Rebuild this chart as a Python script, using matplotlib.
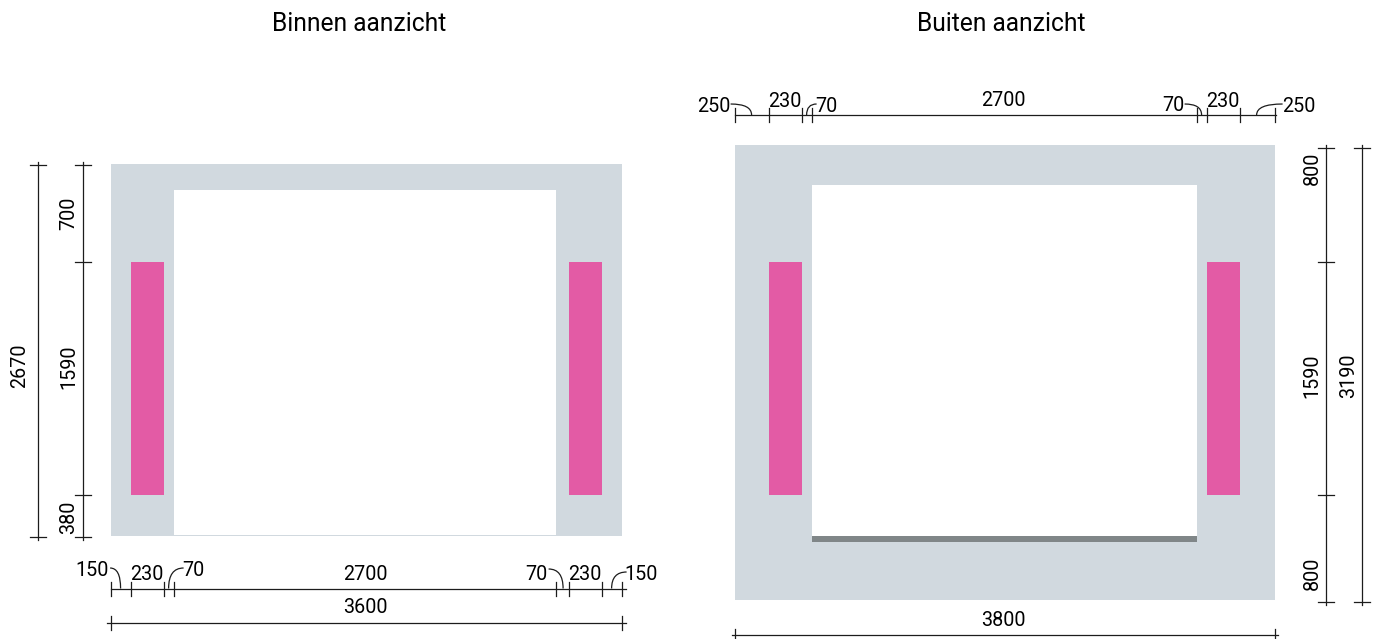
import numpy as np
import matplotlib
matplotlib.use('Agg')
import matplotlib.pyplot as plt
from matplotlib.patches import Rectangle, PathPatch
from matplotlib.path import Path

plt.rcParams['font.family'] = ['Roboto', 'DejaVu Sans']

# --- dimensions in mm ---
titles = ['Binnen aanzicht', 'Buiten aanzicht']

binnen_widths = [150, 230, 70, 2700, 70, 230, 150]
binnen_total_width = 3600
binnen_heights = [700, 1590, 380]
binnen_total_height = 2670

buiten_widths = [250, 230, 70, 2700, 70, 230, 250]
buiten_total_width = 3800
buiten_heights = [800, 1590, 800]
buiten_total_height = 3190

# the drawing is not quite to scale, so each panel has its own mm -> pixel edges
binnen_x_edges = [111, 131, 164, 174.5, 556.5, 569, 602, 622]
binnen_y_edges = [165, 262, 495, 536.5]
buiten_x_edges = [735, 769.5, 802, 812.5, 1197, 1207, 1240, 1275]
buiten_y_edges = [147.5, 262, 495, 601.5]

GREY = '#d1d9df'
PINK = '#e35ba5'
BAR = '#808688'
INK = '#1c1c1c'
LW = 0.9
FS = 14.2


def scale(values, edges):
    cum = np.concatenate([[0], np.cumsum(values)])
    return cum, lambda mm: np.interp(mm, cum, edges)


def hdim(ax, xs, y, tick=7, over=(0, 4)):
    ax.plot([xs[0] - over[0], xs[-1] + over[1]], [y, y], color=INK, lw=LW)
    for x in xs:
        ax.plot([x, x], [y - tick, y + tick], color=INK, lw=LW)


def vdim(ax, x, ys, tick=8, over=3):
    ax.plot([x, x], [ys[0] - over, ys[-1] + over], color=INK, lw=LW)
    for y in ys:
        ax.plot([x - tick, x + tick], [y, y], color=INK, lw=LW)


def leader(ax, start, end):
    # quarter curve from a label down to the dimension line
    ctrl = (end[0], start[1])
    path = Path([start, ctrl, end], [Path.MOVETO, Path.CURVE3, Path.CURVE3])
    ax.add_patch(PathPatch(path, fc='none', ec=INK, lw=LW))


def label(ax, x, y, s, rot=0):
    # rotated text sits a little left of its centre, horizontal a little high
    if rot:
        x += 2.3
    else:
        y += 1.6
    ax.text(x, y, s, fontsize=FS, color='black', ha='center', va='center',
            rotation=rot)


fig = plt.figure(figsize=(13.78, 6.39), dpi=100)
ax = fig.add_axes([0, 0, 1, 1])
ax.set_xlim(0.4, 1378.4)
ax.set_ylim(639, 0)
ax.axis('off')

ax.text(360, 24, titles[0], fontsize=17.7, ha='center', va='center')
ax.text(1002, 24, titles[1], fontsize=17.7, ha='center', va='center')

# --- Binnen aanzicht ---
cum, fx = scale(binnen_widths, binnen_x_edges)
hcum, fy = scale(binnen_heights, binnen_y_edges)
xs = fx(cum)
ys = fy(hcum)

ax.add_patch(Rectangle((xs[0], 164), xs[-1] - xs[0], 372, fc=GREY, ec='none'))
ax.add_patch(Rectangle((xs[3], 190), xs[4] - xs[3], 345, fc='white', ec='none'))
for i in (1, 5):
    ax.add_patch(Rectangle((xs[i], ys[1]), xs[i + 1] - xs[i], ys[2] - ys[1],
                           fc=PINK, ec='none'))

hdim(ax, xs, 588.5)
hdim(ax, [xs[0], xs[-1]], 622.5, over=(4, 4))
vdim(ax, 83, ys)
vdim(ax, 38, [ys[0], ys[-1]])

leader(ax, (110.5, 568), (121, 588.5))
leader(ax, (184, 568), (169, 588.5))
leader(ax, (549, 569), (563.5, 588.5))
leader(ax, (627, 572), (612, 588.5))

for x, y, v in zip([92.5, 147, 194, 366, 537, 585, 641], [569, 573, 569, 573, 573, 573, 573],
                   binnen_widths):
    label(ax, x, y, str(v))
label(ax, 366, 606, str(binnen_total_width))
for y, v in zip([213, 367, 517], binnen_heights):
    label(ax, 67, y, str(v), rot=90)
label(ax, 18, 366, str(binnen_total_height), rot=90)

# --- Buiten aanzicht ---
cum, fx = scale(buiten_widths, buiten_x_edges)
hcum, fy = scale(buiten_heights, buiten_y_edges)
xs = fx(cum)
ys = fy(hcum)

ax.add_patch(Rectangle((xs[0], 145), xs[-1] - xs[0], 455, fc=GREY, ec='none'))
ax.add_patch(Rectangle((xs[3], 185), xs[4] - xs[3], 351, fc='white', ec='none'))
ax.add_patch(Rectangle((xs[3], 536), xs[4] - xs[3], 6, fc=BAR, ec='none'))
for i in (1, 5):
    ax.add_patch(Rectangle((xs[i], ys[1]), xs[i + 1] - xs[i], ys[2] - ys[1],
                           fc=PINK, ec='none'))

hdim(ax, xs, 115, over=(0, 1))
hdim(ax, [xs[0], xs[-1]], 634.5, tick=6, over=(3, 3))
vdim(ax, 1326, ys)
vdim(ax, 1362.5, [ys[0], ys[-1]])

leader(ax, (731, 104), (752, 115))
leader(ax, (817, 104), (807, 115))
leader(ax, (1185, 104), (1202, 115))
leader(ax, (1283, 104), (1257, 115))

for x, y, v in zip([714, 785.5, 826.5, 1004, 1174, 1223, 1299.5], [104.5, 99.5, 104.5, 99, 104, 99.5, 104.5],
                   buiten_widths):
    label(ax, x, y, str(v))
label(ax, 1004, 619, str(buiten_total_width))
for y, v in zip([168, 376, 573], buiten_heights):
    label(ax, 1310, y, str(v), rot=90)
label(ax, 1347, 376, str(buiten_total_height), rot=90)

fig.savefig('out.png', dpi=100)
